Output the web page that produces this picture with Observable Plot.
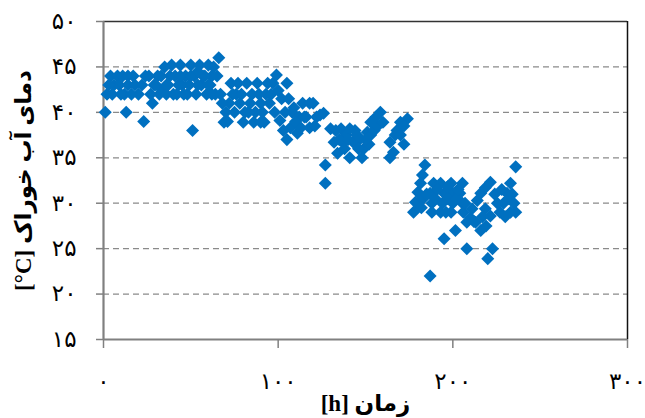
<!DOCTYPE html>
<html>
<head>
<meta charset="utf-8">
<script src="https://cdn.jsdelivr.net/npm/d3@7"></script>
<script src="https://cdn.jsdelivr.net/npm/@observablehq/plot@0.6"></script>
<style>
  html, body { margin: 0; padding: 0; background: #fff; }
  #chart svg { display: block; }
</style>
</head>
<body>
<div id="chart"></div>
<script>
// Time [h]
const timeH = [
  1, 2, 4, 6, 8, 11, 14, 17, 9, 12, 14, 13, 18, 20, 23, 22, 26, 28, 29, 27,
  32, 34, 36, 38, 39, 41, 42, 44, 45, 47, 48, 50, 51, 52, 53, 55, 56, 57, 59, 60,
  61, 62, 63, 64, 65, 66, 46, 40, 36, 31,
  24, 30, 33, 35, 37, 43, 49, 54, 58, 60, 62, 44, 50, 54, 5, 3, 10, 16,
  67, 69, 70, 72, 73, 76, 77, 78, 80, 81, 82, 84, 85, 86, 87, 88, 90, 92, 93, 94, 96,
  74, 79, 83, 89, 91, 95, 97, 75, 71, 98, 90, 68,
  99, 100, 101, 102, 105, 105, 107, 108, 109, 111, 113, 114, 116, 118, 118, 120, 122, 124, 126, 127, 127, 112,
  104, 110, 115, 106, 121, 103,
  130, 132, 134, 136, 137, 139, 141, 141, 143, 145, 147, 148, 149, 151, 152, 153, 154, 155, 157, 158.5, 160, 156,
  135, 138, 144, 146, 150, 140, 133, 153,
  164, 164, 166, 167, 168, 170, 170, 172, 174, 172,
  184, 182.6, 181.5, 180, 178.6, 177.5, 183, 182,
  189, 193, 199, 205.5, 187, 195, 200, 204, 188, 194, 200, 205.5, 188, 199, 206, 193,
  185, 190, 197, 202, 191, 197, 203, 207, 196,
  210, 208, 201.5, 195, 208, 216, 187, 213,
  211, 214, 216, 218.6, 221.5, 218.6, 221.5, 222.7, 220,
  212, 217, 219,
  236, 233, 231, 229, 227, 235, 236, 225.5, 233,
  224, 228, 232, 234, 230
];
// Feed water temperature [°C]
const tempC = [
  40, 42, 44, 43, 44, 44, 44, 44, 43, 42, 43, 40, 43, 42, 39, 43, 44, 41, 43, 42,
  42, 42.5, 43, 44, 45.2, 44, 42, 45.2, 43, 44, 42, 45.2, 38, 44, 42, 45.2, 43, 44, 42, 45.2,
  43, 44, 45, 42, 44, 46, 42, 42, 42, 44,
  44, 43, 44, 45, 43, 43, 43, 43, 44, 43, 42, 44, 44, 44.5, 42, 43, 42, 42,
  42, 38.9, 40, 41, 43.2, 42, 43.2, 41, 38.9, 40, 43.2, 41, 42, 38.9, 40, 43.2, 41, 38.9, 42, 43.2, 42,
  42, 42, 40, 42, 40, 41, 43.2, 40, 39, 40, 38.9, 41,
  44.1, 42.4, 39.1, 41.5, 43.2, 37, 38.3, 40, 40.5, 37.7, 38.3, 41, 39.5, 38.3, 41, 41, 39.5, 39.7, 39.9, 34.2, 32.2, 39.5,
  40, 39, 39.5, 41.5, 38.5, 38,
  38.2, 36.7, 35.5, 38.2, 36.7, 37.5, 38.2, 35, 36.7, 37.5, 37.1, 35, 36, 37.8, 36.5, 37.5, 38.9, 38, 38.5, 40, 38.9, 39.5,
  37, 36, 38, 36, 37, 37, 38, 38.9,
  36.7, 35, 35.6, 37.5, 38, 38.9, 37.5, 36.5, 39.3, 38.5,
  34.2, 33.1, 32.2, 31.2, 30.1, 29, 30.5, 29.5,
  32.2, 32.2, 32.2, 32.2, 31.1, 31.1, 31.1, 31.1, 30, 30, 30, 30, 29, 29, 29, 29,
  31, 30.5, 30.5, 30.5, 31.5, 31.8, 31.5, 30, 29,
  28.4, 27.9, 27, 26.1, 25, 27, 22, 27.9,
  29.4, 30.3, 31.1, 31.7, 32.3, 29.4, 28.6, 25, 23.9,
  28, 28.5, 27.5,
  34, 32.2, 31.1, 30, 29, 30, 29, 30, 29,
  31, 31.5, 30.5, 31, 28.5
];
const xTicks = [0, 100, 200, 300];
const yTicks = [15, 20, 25, 30, 35, 40, 45, 50];
const gridY = [20, 25, 30, 35, 40, 45];
const xLabel = "[h] زمان";
const yLabel = "[°C] دمای آب خوراک";

const data = timeH.map((t, i) => ({t, v: tempC[i]}));
const fa = d => String(d).replace(/\d/g, c => "۰۱۲۳۴۵۶۷۸۹"[+c]);

const diamond = {
  draw(ctx, size) {
    const h = Math.sqrt(size / 2);
    ctx.moveTo(0, -h); ctx.lineTo(h, 0); ctx.lineTo(0, h); ctx.lineTo(-h, 0); ctx.closePath();
  }
};

const chart = Plot.plot({
  width: 645,
  height: 418,
  marginLeft: 103,
  marginRight: 18,
  marginTop: 21,
  marginBottom: 79,
  style: {fontFamily: "'DejaVu Sans', sans-serif", fontSize: "23px", color: "black", background: "white"},
  x: {domain: [0, 300], axis: null},
  y: {domain: [15, 50], axis: null},
  marks: [
    Plot.ruleY(gridY, {stroke: "#8a8a8a", strokeWidth: 1.3, strokeDasharray: "6,4"}),
    Plot.ruleY([50], {stroke: "#333", strokeWidth: 1.5}),
    Plot.ruleX([300], {stroke: "#111", strokeWidth: 1.5}),
    Plot.axisY({ticks: yTicks, tickFormat: fa, tickSize: 7, tickPadding: 20, stroke: "#808080", strokeWidth: 1.5, fill: "black", label: null, fontSize: 23}),
    Plot.axisX({ticks: xTicks, tickFormat: fa, tickSize: 9, tickPadding: 24, stroke: "#808080", strokeWidth: 1.5, fill: "black", label: null, fontSize: 23}),
    Plot.axisY({ticks: [], tickSize: 0, label: yLabel, labelAnchor: "center", labelOffset: 89, labelArrow: false, fontWeight: "bold", fontSize: 23, fontFamily: "'Liberation Serif', 'DejaVu Sans', serif"}),
    Plot.axisX({ticks: [], tickSize: 0, label: xLabel, labelAnchor: "center", labelOffset: 71, labelArrow: false, fontWeight: "bold", fontSize: 23, fontFamily: "'Liberation Serif', 'DejaVu Sans', serif"}),
    Plot.ruleX([0], {stroke: "#808080", strokeWidth: 2.2, y1: 15, y2: 50}),
    Plot.ruleY([15], {stroke: "#808080", strokeWidth: 2.2, x1: 0, x2: 300}),
    Plot.dot(data, {x: "t", y: "v", symbol: diamond, r: 5.2, fill: "#0070C0", stroke: "none"})
  ]
});
document.getElementById("chart").appendChild(chart);
</script>
</body>
</html>
